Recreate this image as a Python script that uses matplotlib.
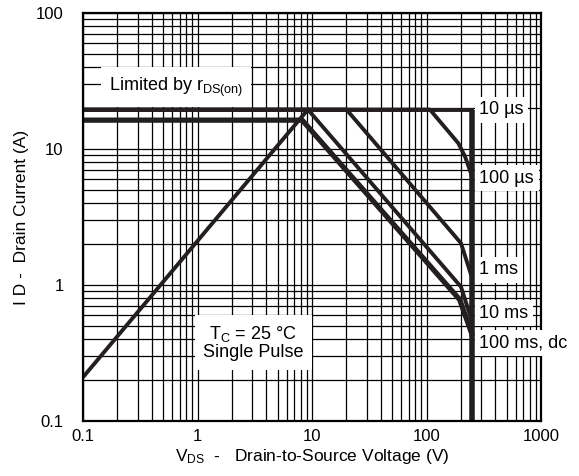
import matplotlib
matplotlib.use("Agg")
import matplotlib.pyplot as plt
from matplotlib.ticker import LogLocator, FuncFormatter, NullFormatter

plt.rcParams['font.family'] = ['Liberation Sans', 'DejaVu Sans']
plt.rcParams['mathtext.default'] = 'regular'

# safe operating area
vds_rds = [0.1, 9.2]
id_rds = [0.21, 19.5]

vds_10us = [0.1, 250]
id_10us = [19.5, 19.5]

vds_100us = [0.1, 107, 190, 217, 248]
id_100us = [19.5, 19.5, 11.0, 8.8, 6.4]

vds_1ms = [0.1, 20, 200, 248]
id_1ms = [19.5, 19.5, 2.03, 1.15]

vds_10ms = [9.2, 200, 248]
id_10ms = [19.5, 0.97, 0.55]

vds_dc = [0.1, 8.2, 195, 248]
id_dc = [16.3, 16.3, 0.78, 0.44]

vds_max = [250, 250]
id_vmax = [19.5, 0.1]

curve_labels = ['10 µs', '100 µs', '1 ms', '10 ms', '100 ms, dc']
label_ids = [19.5, 6.1, 1.29, 0.62, 0.375]

fig = plt.figure(figsize=(5.79, 4.76), dpi=100)
ax = fig.add_axes([0.1434, 0.1155, 0.7910, 0.8572])
ax.set_xscale('log')
ax.set_yscale('log')
ax.set_xlim(0.1, 1000)
ax.set_ylim(0.1, 100)

ax.xaxis.set_major_locator(LogLocator(base=10))
ax.xaxis.set_minor_locator(LogLocator(base=10, subs=range(2, 10)))
ax.yaxis.set_major_locator(LogLocator(base=10))
ax.yaxis.set_minor_locator(LogLocator(base=10, subs=range(2, 10)))
fmt = FuncFormatter(lambda v, p: '%g' % v)
ax.xaxis.set_major_formatter(fmt)
ax.yaxis.set_major_formatter(fmt)
ax.xaxis.set_minor_formatter(NullFormatter())
ax.yaxis.set_minor_formatter(NullFormatter())
ax.tick_params(which='both', length=0, labelsize=12)
ax.tick_params(axis='x', pad=6)
ax.tick_params(axis='y', pad=14)
ax.grid(which='both', color='black', lw=0.9)
ax.set_axisbelow(True)
for s in ax.spines.values():
    s.set_linewidth(1.6)

lc = '#231f20'
ax.plot(vds_rds, id_rds, color=lc, lw=2.8, solid_capstyle='butt')
ax.plot(vds_10us, id_10us, color=lc, lw=2.8)
ax.plot(vds_100us, id_100us, color=lc, lw=2.8)
ax.plot(vds_1ms, id_1ms, color=lc, lw=2.8)
ax.plot(vds_10ms, id_10ms, color=lc, lw=2.8)
ax.plot(vds_dc, id_dc, color=lc, lw=3.8)
ax.plot(vds_max, id_vmax, color=lc, lw=4.0, solid_capstyle='butt')

box = dict(boxstyle='square,pad=0.25', fc='white', ec='none')
for lab, y in zip(curve_labels, label_ids):
    ax.text(290, y, lab, ha='left', va='center', fontsize=13, bbox=box,
            clip_on=False)

ax.text(0.65, 28.6, 'Limited by r$_{DS(on)}$', ha='center', va='center',
        fontsize=13, bbox=dict(boxstyle='square,pad=0.45', fc='white', ec='none'))
ax.text(3.06, 0.375, 'T$_C$ = 25 °C\nSingle Pulse', ha='center', va='center',
        fontsize=13, linespacing=1.0,
        bbox=dict(boxstyle='square,pad=0.45', fc='white', ec='none'))

ax.set_xlabel('V$_{DS}$  -   Drain-to-Source Voltage (V)', fontsize=12.5, labelpad=2)
ax.set_ylabel('I D -  Drain Current (A)', fontsize=12.5, labelpad=5)

fig.savefig('out.png', dpi=100)
